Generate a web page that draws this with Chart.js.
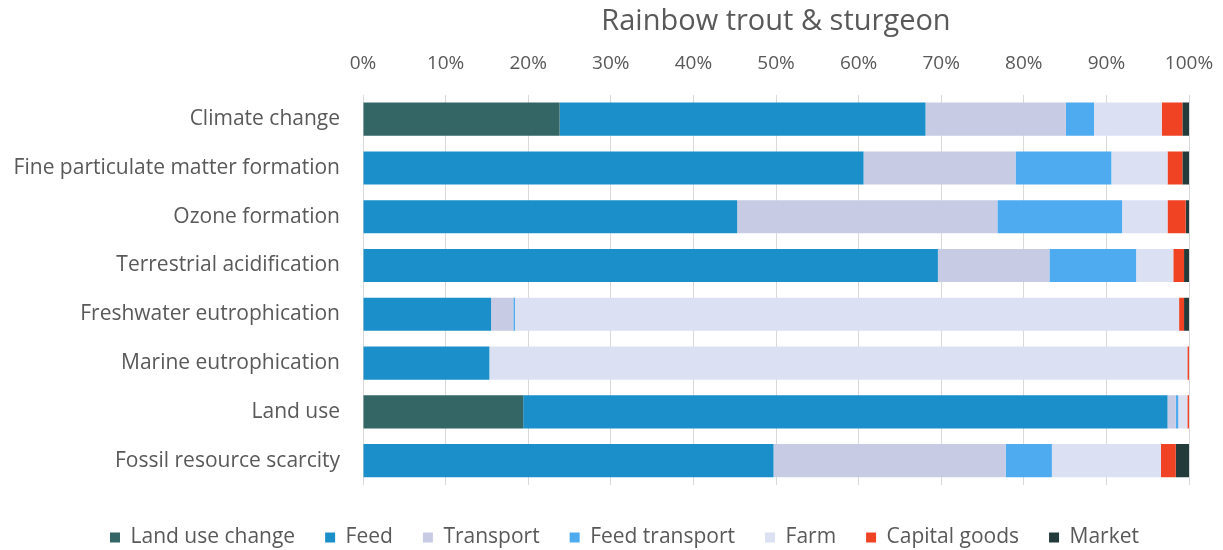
<!DOCTYPE html>
<html>
<head>
<meta charset="utf-8">
<script src="https://cdn.jsdelivr.net/npm/chart.js@4.4.1/dist/chart.umd.min.js"></script>
<style>
  html, body { margin: 0; padding: 0; background: #fff; }
  #wrap { width: 1223px; height: 550px; }
</style>
</head>
<body>
<div id="wrap"><canvas id="chart"></canvas></div>
<script>
// Categories (top to bottom)
const categories = [
  'Climate change',
  'Fine particulate matter formation',
  'Ozone formation',
  'Terrestrial acidification',
  'Freshwater eutrophication',
  'Marine eutrophication',
  'Land use',
  'Fossil resource scarcity'
];

// Shares in % per stage
const landUseChange = [23.8, 0, 0, 0, 0, 0, 19.4, 0];
const feed = [44.3, 60.6, 45.3, 69.6, 15.5, 15.3, 78.0, 49.7];
const transport = [17.0, 18.4, 31.5, 13.5, 2.7, 0, 1.0, 28.1];
const feedTransport = [3.4, 11.6, 15.1, 10.5, 0.2, 0, 0.3, 5.6];
const farm = [8.2, 6.8, 5.5, 4.5, 80.4, 84.5, 1.1, 13.2];
const capitalGoods = [2.5, 1.8, 2.2, 1.3, 0.6, 0.2, 0.2, 1.8];
const market = [0.8, 0.8, 0.4, 0.6, 0.6, 0, 0, 1.6];

const xTicks = [0, 10, 20, 30, 40, 50, 60, 70, 80, 90, 100];
const chartTitle = 'Rainbow trout & sturgeon';

const txt = '#595959';
const font = 'Open Sans';

const series = [
  { label: 'Land use change', data: landUseChange, color: '#336664' },
  { label: 'Feed', data: feed, color: '#1a8fca' },
  { label: 'Transport', data: transport, color: '#c7cbe4' },
  { label: 'Feed transport', data: feedTransport, color: '#4fabf0' },
  { label: 'Farm', data: farm, color: '#dce0f3' },
  { label: 'Capital goods', data: capitalGoods, color: '#f04324' },
  { label: 'Market', data: market, color: '#233b3b' }
];

// title centred over the plot area, like the Excel original
const plotTitle = {
  id: 'plotTitle',
  afterDraw(chart) {
    const { ctx, chartArea } = chart;
    ctx.save();
    ctx.fillStyle = txt;
    ctx.font = '29px "' + font + '"';
    ctx.textAlign = 'center';
    ctx.textBaseline = 'middle';
    ctx.fillText(chartTitle, (chartArea.left + chartArea.right) / 2, 22);
    ctx.restore();
  }
};

// nudge the legend a bit right and down
const legendNudge = {
  id: 'legendNudge',
  afterLayout(chart) {
    const lg = chart.legend;
    if (!lg) return;
    lg.left += 30;
    lg.right += 30;
    lg.top += 12;
    lg.bottom += 12;
  }
};

new Chart(document.getElementById('chart'), {
  type: 'bar',
  data: {
    labels: categories,
    datasets: series.map(s => ({
      label: s.label,
      data: s.data,
      backgroundColor: s.color,
      borderWidth: 0,
      barPercentage: 0.68,
      categoryPercentage: 1
    }))
  },
  options: {
    indexAxis: 'y',
    responsive: true,
    maintainAspectRatio: false,
    animation: false,
    layout: { padding: { left: 0, right: 34, top: 32, bottom: 4 } },
    scales: {
      x: {
        position: 'top',
        stacked: true,
        min: 0,
        max: 100,
        afterBuildTicks: axis => { axis.ticks = xTicks.map(v => ({ value: v })); },
        afterFit: axis => { axis.paddingLeft = 0; axis.paddingRight = 0; },
        ticks: {
          color: txt,
          font: { family: font, size: 19 },
          padding: 20,
          callback: v => v + '%'
        },
        grid: { color: '#d9d9d9', drawTicks: false, lineWidth: 1 },
        border: { display: false }
      },
      y: {
        stacked: true,
        afterFit: axis => { axis.width = 363; },
        ticks: {
          color: txt,
          font: { family: font, size: 21 },
          padding: 23
        },
        grid: { display: false, drawTicks: false },
        border: { display: false }
      }
    },
    plugins: {
      title: { display: false },
      legend: {
        position: 'bottom',
        labels: {
          color: txt,
          font: { family: font, size: 21 },
          boxWidth: 10,
          boxHeight: 10,
          padding: 30
        }
      },
      tooltip: { enabled: false }
    }
  },
  plugins: [plotTitle, legendNudge]
});
</script>
</body>
</html>
